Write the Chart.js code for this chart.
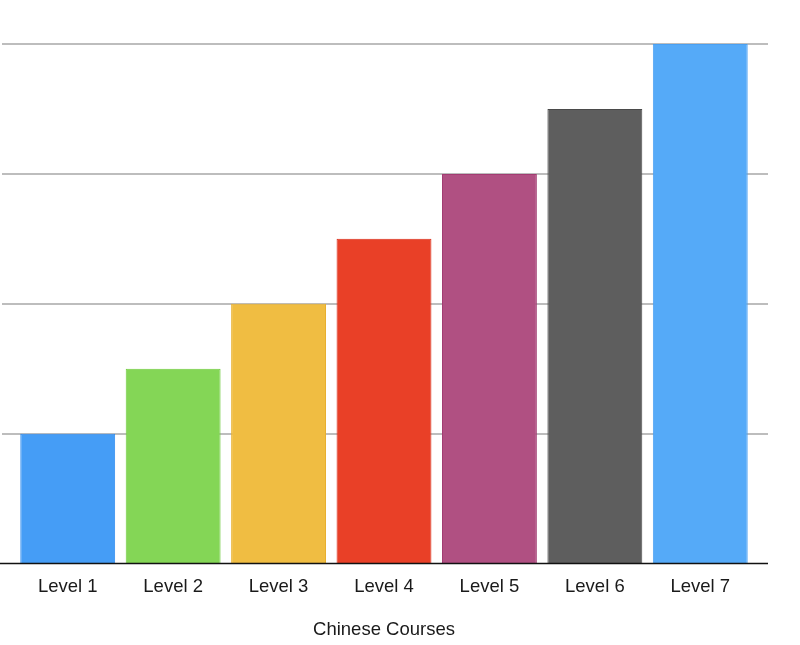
<!DOCTYPE html>
<html>
<head>
<meta charset="utf-8">
<style>
  html, body { margin: 0; padding: 0; background: #fff; }
  #wrap { width: 800px; height: 645px; }
</style>
<script src="https://cdn.jsdelivr.net/npm/chart.js@4/dist/chart.umd.min.js"></script>
</head>
<body>
<div id="wrap"><canvas id="myChart"></canvas></div>
<script>
const levels = ['Level 1', 'Level 2', 'Level 3', 'Level 4', 'Level 5', 'Level 6', 'Level 7'];
const courseValues = [1, 1.5, 2, 2.5, 3, 3.5, 4];
const barColors = ['#459df6', '#84d656', '#f0bd42', '#e94027', '#b05082', '#5e5e5e', '#55aaf8'];
const barBorders = ['#2f8bef', '#6fcb3d', '#e8b02e', '#d92b18', '#a23c72', '#4a4a4a', '#4aa0f2'];

// gridlines run a bit past the bars on both sides, so draw them by hand
const wideGrid = {
    id: 'wideGrid',
    beforeDatasetsDraw(chart) {
        const ctx = chart.ctx;
        const y = chart.scales.y;
        ctx.save();
        ctx.strokeStyle = '#bdbdbd';
        ctx.lineWidth = 2;
        y.ticks.forEach((t) => {
            if (t.value === 0) return;
            const py = Math.round(y.getPixelForValue(t.value));
            ctx.beginPath();
            ctx.moveTo(2, py);
            ctx.lineTo(768, py);
            ctx.stroke();
        });
        ctx.restore();
    },
    afterDatasetsDraw(chart) {
        const ctx = chart.ctx;
        const py = chart.scales.y.getPixelForValue(0);
        ctx.save();
        ctx.strokeStyle = '#111';
        ctx.lineWidth = 1.5;
        ctx.beginPath();
        ctx.moveTo(0, py);
        ctx.lineTo(768, py);
        ctx.stroke();
        ctx.restore();
    }
};

new Chart(document.getElementById('myChart'), {
    type: 'bar',
    data: {
        labels: levels,
        datasets: [{
            data: courseValues,
            backgroundColor: barColors,
            borderColor: barBorders,
            borderWidth: 1,
            barPercentage: 0.9,
            categoryPercentage: 1.0,
        }],
    },
    options: {
        responsive: true,
        maintainAspectRatio: false,
        animation: false,
        layout: { padding: { left: 15, right: 47, top: 44, bottom: 0 } },
        plugins: { legend: { display: false }, tooltip: { enabled: false } },
        scales: {
            x: {
                grid: { display: false, drawTicks: false },
                border: { display: false },
                ticks: { padding: 12, color: '#1a1a1a', font: { family: 'Liberation Sans', size: 18.5 } },
                title: {
                    display: true,
                    text: 'Chinese Courses',
                    color: '#1a1a1a',
                    padding: { top: 9, bottom: 4 },
                    font: { family: 'Liberation Sans', size: 18.5 },
                },
            },
            y: {
                display: false,
                min: 0,
                max: 4,
                ticks: { stepSize: 1 },
            },
        },
    },
    plugins: [wideGrid],
});
</script>
</body>
</html>
